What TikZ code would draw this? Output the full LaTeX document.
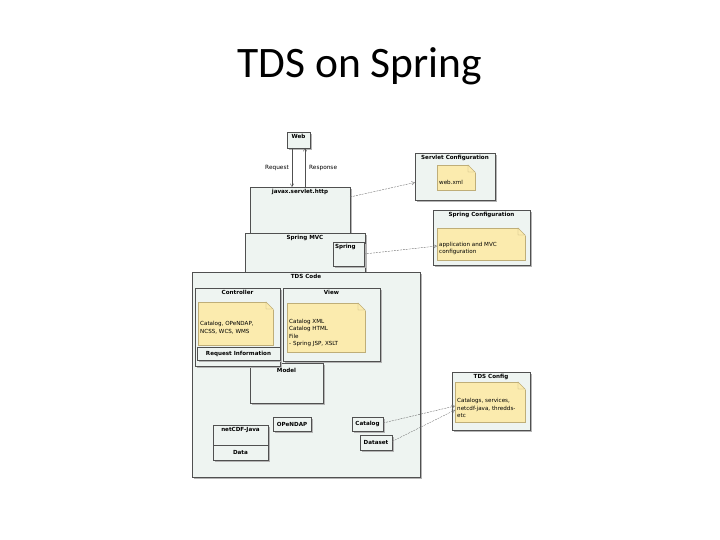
\documentclass[tikz,border=0pt]{standalone}
\usepackage{fontspec}
\setmainfont{DejaVu Sans}
\newfontfamily\titlefont{Carlito}
\usetikzlibrary{shadows,arrows.meta}
\definecolor{boxfill}{HTML}{EEF4F1}
\definecolor{boxline}{HTML}{505050}
\definecolor{notefill}{HTML}{FBEBAE}
\definecolor{noteline}{HTML}{BFAE78}
\definecolor{shadowgray}{HTML}{B4B4B4}
\definecolor{linkgray}{HTML}{707070}
\tikzset{
  box/.style={draw=boxline, line width=0.6pt, fill=boxfill, anchor=north west,
    inner sep=0pt, outer sep=0pt,
    drop shadow={shadow xshift=1.6pt, shadow yshift=-1.6pt, fill=shadowgray, opacity=1}},
  note/.style={draw=noteline, line width=0.4pt, fill=notefill, anchor=north west,
    inner sep=0pt, outer sep=0pt,
    drop shadow={shadow xshift=1.4pt, shadow yshift=-1.4pt, fill=shadowgray, opacity=1}},
  ttl/.style={anchor=north, font=\fontsize{5.6}{6}\selectfont\bfseries, inner sep=1.8pt},
  notetxt/.style={anchor=south west, align=left, font=\fontsize{5.6}{7.4}\selectfont, inner sep=2pt},
  msg/.style={draw=boxline, line width=0.4pt, -{Straight Barb[length=3pt,width=3.5pt]}},
  dep/.style={draw=linkgray, line width=0.4pt, dash pattern=on 2pt off 1pt,
    -{Straight Barb[length=3pt,width=3.5pt]}}
}
\begin{document}
\begin{tikzpicture}[x=1pt,y=-1pt]
    \useasboundingbox (0,0) rectangle (720,540);

    % Titolo
    \node[font=\titlefont\fontsize{43.5}{48}\selectfont, anchor=base] (title) at (360,78) {TDS on Spring};

    % Web e javax.servlet.http
    \node[box, minimum width=23pt, minimum height=16pt] (web) at (287,132) {};
    \node[ttl] (webttl) at (web.north) {Web};
    \node[box, minimum width=100pt, minimum height=46pt] (http) at (250,187) {};
    \node[ttl] (httpttl) at (http.north) {javax.servlet.http};

    % Richiesta e risposta
    \draw[msg] ([xshift=-6.5pt]web.south) -- ([xshift=-6.5pt]web.south |- http.north)
        node[midway, left, font=\fontsize{5.8}{6}\selectfont, inner sep=3pt] (req) {Request};
    \draw[msg] ([xshift=6.5pt]web.south |- http.north) -- ([xshift=6.5pt]web.south)
        node[midway, right, font=\fontsize{5.8}{6}\selectfont, inner sep=4pt] (resp) {Response};

    % Spring MVC
    \node[box, minimum width=120pt, minimum height=39pt] (mvc) at (245,233) {};
    \node[ttl] (mvcttl) at (mvc.north) {Spring MVC};
    \node[box, minimum width=31pt, minimum height=24pt] (spring) at (333,242) {};
    \node[ttl, anchor=north west] (springttl) at (spring.north west) {Spring};

    % Configurazioni
    \node[box, minimum width=80pt, minimum height=47pt] (svcfg) at (415,153) {};
    \node[ttl] (svcfgttl) at (svcfg.north) {Servlet Configuration};
    \node[note, minimum width=38pt, minimum height=25pt] (webxml) at (437,165) {};
    \node[notetxt] (webxmltxt) at ([yshift=3pt]webxml.south west) {web.xml};

    \node[box, minimum width=97pt, minimum height=55pt] (spcfg) at (433,210) {};
    \node[ttl] (spcfgttl) at (spcfg.north) {Spring Configuration};
    \node[note, minimum width=88pt, minimum height=32pt] (appcfg) at (437,228) {};
    \node[notetxt] (appcfgtxt) at ([yshift=3pt]appcfg.south west) {application and MVC\\configuration};

    % TDS Code
    \node[box, minimum width=228pt, minimum height=205pt] (tds) at (192,272) {};
    \node[ttl] (tdsttl) at (tds.north) {TDS Code};

    % Model (sotto Controller e View)
    \node[box, minimum width=73pt, minimum height=40pt] (model) at (250,363) {};
    \node[ttl, yshift=-3pt] (modelttl) at (model.north) {Model};

    % Controller
    \node[box, minimum width=85pt, minimum height=78pt] (ctrl) at (195,288) {};
    \node[ttl] (ctrlttl) at (ctrl.north) {Controller};
    \node[note, minimum width=75pt, minimum height=43pt] (ctrlnote) at (198,302) {};
    \node[notetxt] (ctrltxt) at ([yshift=9pt]ctrlnote.south west) {Catalog, OPeNDAP,\\NCSS, WCS, WMS};
    \node[box, minimum width=83pt, minimum height=13pt] (reqinfo) at (197,347) {};
    \node[ttl, anchor=center] (reqinfottl) at (reqinfo.center) {Request Information};

    % View
    \node[box, minimum width=97pt, minimum height=73pt] (view) at (283,288) {};
    \node[ttl] (viewttl) at (view.north) {View};
    \node[note, minimum width=78pt, minimum height=49pt] (viewnote) at (287,303) {};
    \node[notetxt] (viewtxt) at ([yshift=3pt]viewnote.south west)
        {Catalog XML\\Catalog HTML\\File\\- Spring JSP, XSLT};

    % OPeNDAP e netCDF-Java
    \node[box, minimum width=38pt, minimum height=14pt] (opendap) at (273,417) {};
    \node[ttl, anchor=center] (opendapttl) at (opendap.center) {OPeNDAP};
    \node[box, minimum width=55pt, minimum height=35pt] (ncj) at (213,425) {};
    \node[ttl] (ncjttl) at (ncj.north) {netCDF-Java};
    \draw[boxline, line width=0.6pt] ([yshift=-20pt]ncj.north west) coordinate (ncjsep)
        -- ([yshift=-20pt]ncj.north east);
    \node[ttl, anchor=center] (datattl) at ([yshift=-7.5pt]ncjsep -| ncj.north) {Data};

    % Catalog e Dataset
    \node[box, minimum width=31pt, minimum height=14pt] (catalog) at (352,417) {};
    \node[ttl, anchor=center] (catalogttl) at (catalog.center) {Catalog};
    \node[box, minimum width=32pt, minimum height=15pt] (dataset) at (360,435) {};
    \node[ttl, anchor=center] (datasetttl) at (dataset.center) {Dataset};

    % TDS Config
    \node[box, minimum width=78pt, minimum height=58pt] (tdscfg) at (452,372) {};
    \node[ttl] (tdscfgttl) at (tdscfg.north) {TDS Config};
    \node[note, minimum width=70pt, minimum height=40pt] (cfgnote) at (455,382) {};
    \node[notetxt] (cfgtxt) at ([yshift=2pt]cfgnote.south west)
        {Catalogs, services,\\netcdf-java, thredds-\\etc};

    % Angoli piegati delle note
    \foreach \n in {webxml, appcfg, ctrlnote, viewnote, cfgnote} {
        \fill[boxfill] ([xshift=-7pt,yshift=0.6pt]\n.north east) -- ([xshift=2.6pt,yshift=0.6pt]\n.north east)
            -- ([xshift=2.6pt,yshift=-9.6pt]\n.north east) -- ([yshift=-7pt]\n.north east) -- cycle;
        \draw[noteline, line width=0.4pt] ([xshift=-7pt]\n.north east) -- ([yshift=-7pt]\n.north east)
            -- ([xshift=-7pt,yshift=-7pt]\n.north east) -- cycle;
    }

    % Dipendenze
    \draw[dep] ([yshift=-10pt]http.north east) -- ([yshift=-6pt]svcfg.west);
    \draw[dep] (spring.east) -- ([yshift=-2pt]appcfg.west);
    \draw[dep] ([yshift=1pt]catalog.east) -- ([yshift=-4pt]cfgnote.west);
    \draw[dep] ([yshift=1pt]dataset.east) -- ([yshift=-8pt]cfgnote.west);
\end{tikzpicture}
\end{document}
